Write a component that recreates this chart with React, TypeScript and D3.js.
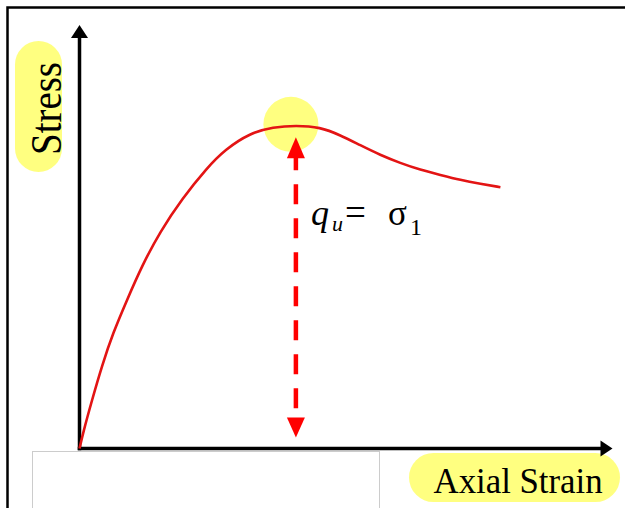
import React from "react";
import * as d3 from "d3";

// Stress–strain curve (arbitrary units)
const strain = [0, 0.66, 2.35, 4.23, 6.29, 8.92, 11.74, 15.12, 19.25, 23.94, 27.32, 32.02, 36.34, 40.6, 45.16, 48.92, 52.68, 56.43, 60.19, 63.94, 67.7, 71.46, 75.21, 78.97];
const stress = [0, 3.66, 11.45, 19.6, 27.3, 35.1, 43.2, 51.2, 59.0, 66.3, 70.6, 74.5, 75.9, 76.3, 75.9, 74.0, 71.6, 69.3, 67.4, 65.8, 64.6, 63.4, 62.5, 61.7];
const xLabel = "Axial Strain";
const yLabel = "Stress";

const W = 625;
const H = 508;

export default function App() {
  const x = d3.scaleLinear().domain([0, 100]).range([79.5, 612.5]);
  const y = d3.scaleLinear().domain([0, 100]).range([448.5, 25]);

  const pts: [number, number][] = strain.map((s, i) => [s, stress[i]]);
  const line = d3
    .line<[number, number]>()
    .x((d) => x(d[0]))
    .y((d) => y(d[1]))
    .curve(d3.curveBasis);

  const peakIdx = d3.maxIndex(stress);
  const px = x(strain[peakIdx]);
  const py = y(stress[peakIdx]);

  const x0 = x(0);
  const y0 = y(0);
  const xEnd = x(100);
  const yEnd = y(100);

  const topTip = py + 12;
  const topBase = topTip + 21;
  const botTip = y0 - 11;
  const botBase = botTip - 20;

  const serif = "Liberation Serif";

  return (
    <svg
      width={W}
      height={H}
      style={{ position: "absolute", left: 0, top: 0, background: "#fff" }}
    >
      {/* outer frame */}
      <rect x={7.5} y={7.5} width={700} height={600} fill="none" stroke="#000" strokeWidth={2.5} />
      {/* light grey box below axis */}
      <rect x={32.5} y={451.5} width={347} height={100} fill="none" stroke="#cccccc" strokeWidth={1} />

      {/* yellow highlight at peak */}
      <circle cx={px - 5} cy={py - 1} r={27.5} fill="#ffff80" />

      {/* Y label pill */}
      <rect x={15} y={41} width={47} height={131} rx={23.5} fill="#ffff80" />
      <text
        transform={`translate(61,108.5) rotate(-90) scale(0.885,1)`}
        textAnchor="middle"
        style={{ fontFamily: serif }}
        fontSize={44}
        fill="#000"
      >
        {yLabel}
      </text>

      {/* X label pill */}
      <rect x={409} y={453} width={211} height={49} rx={24.5} fill="#ffff80" />
      <text x={433.5} y={493} style={{ fontFamily: serif }} fontSize={34.8} fill="#000">
        {xLabel}
      </text>

      {/* axes */}
      <line x1={x0} y1={y0 + 1.75} x2={x0} y2={yEnd + 11} stroke="#000" strokeWidth={3.5} />
      <polygon points={`${x0},${yEnd} ${x0 - 8.5},${yEnd + 13} ${x0 + 8.5},${yEnd + 13}`} fill="#000" />
      <line x1={x0 - 1.75} y1={y0} x2={xEnd - 11} y2={y0} stroke="#000" strokeWidth={3.5} />
      <polygon points={`${xEnd},${y0} ${xEnd - 12},${y0 - 8} ${xEnd - 12},${y0 + 8}`} fill="#000" />

      {/* curve */}
      <path d={line(pts) || ""} fill="none" stroke="#e31414" strokeWidth={2.6} />

      {/* dashed double arrow */}
      <line
        x1={px}
        y1={topBase - 1}
        x2={px}
        y2={botBase}
        stroke="#ff0000"
        strokeWidth={4.5}
        strokeDasharray="20 14"
        strokeDashoffset={7}
      />
      <polygon points={`${px},${topTip} ${px - 9},${topBase} ${px + 9},${topBase}`} fill="#ff0000" />
      <polygon points={`${px},${botTip} ${px - 9},${botBase} ${px + 9},${botBase}`} fill="#ff0000" />

      {/* q_u = σ_1 */}
      <g style={{ fontFamily: serif }} fill="#000">
        <text x={311} y={225} fontSize={36} fontStyle="italic">q</text>
        <text x={332} y={231} fontSize={22} fontStyle="italic">u</text>
        <text x={345} y={225} fontSize={37}>=</text>
        <text x={388} y={225} fontSize={35}>σ</text>
        <text x={410} y={235} fontSize={24}>1</text>
      </g>
    </svg>
  );
}
